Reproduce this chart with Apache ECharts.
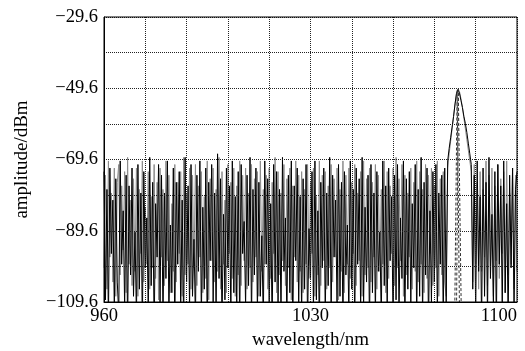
<!DOCTYPE html>
<html>
<head>
<meta charset="utf-8">
<script src="https://cdn.jsdelivr.net/npm/echarts@6/dist/echarts.min.js"></script>
<style>html,body{margin:0;padding:0;background:#fff}#c{width:525px;height:351px}</style>
</head>
<body>
<div id="c"></div>
<script>
// wavelength sampling (nm)
const startNm = 960;
const stepNm = 0.5;
// tick labels
const xTickLabels = [960, 1030, 1100];
const yTickLabels = [-109.6, -89.6, -69.6, -49.6, -29.6];

// black trace amplitude (dBm), one value per 0.5 nm from 960 nm
const blackTrace = [
  -73, -109, -78, -115, -72, -96, -81, -112, -75, -104,
  -113, -70, -99, -84, -111, -74, -117, -77, -102, -72,
  -108, -90, -114, -71, -106, -79, -116, -73, -100, -86,
  -112, -69, -105, -76, -118, -82, -97, -71, -110, -74,
  -115, -79, -103, -70, -113, -88, -107, -72, -117, -76,
  -99, -73, -111, -81, -116, -69, -104, -77, -112, -71,
  -108, -92, -115, -74, -101, -70, -114, -83, -106, -72,
  -118, -76, -98, -71, -110, -79, -113, -68, -103, -75,
  -116, -85, -109, -72, -100, -77, -114, -70, -107, -80,
  -112, -73, -117, -71, -96, -87, -111, -74, -105, -69,
  -115, -78, -102, -72, -113, -76, -108, -91, -116, -70,
  -99, -75, -112, -82, -117, -71, -104, -73, -110, -78,
  -114, -69, -101, -86, -115, -74, -107, -70, -118, -77,
  -98, -72, -111, -80, -113, -75, -106, -71, -116, -89,
  -103, -73, -112, -70, -109, -84, -117, -76, -100, -72,
  -114, -79, -105, -69, -115, -74, -97, -81, -111, -71,
  -108, -76, -117, -73, -102, -88, -113, -70, -106, -78,
  -116, -72, -99, -75, -112, -69, -110, -83, -104, -74,
  -118, -71, -107, -79, -114, -73, -101, -90, -115, -70,
  -105, -77, -112, -72, -98, -80, -117, -74, -109, -71,
  -113, -86, -103, -70, -116, -75, -106, -73, -111, -82,
  -100, -71, -115, -78, -108, -69, -114, -76, -102, -72,
  -117, -84, -110, -73, -104, -71, -113, -79, -99, -74,
  -115, -72, -110,
  -70, -66.5, -63.5, -60.5, -57.5, -54, -51, -50, -51, -53,
  -55, -57.5, -59.5, -62, -65, -68, -71,
  -106, -74, -113, -70, -101, -80, -116, -72, -108, -76,
  -114, -69, -103, -85, -111, -73, -117, -71, -99, -77,
  -112, -70, -107, -82, -115, -74, -100, -72, -113, -78,
  -73
];

// gray trace amplitude (dBm), one value per 0.5 nm from 960 nm
const grayTrace = [
  -100, -74, -106, -70, -97, -79, -104, -72, -108, -76,
  -71, -102, -77, -95, -73, -107, -69, -99, -81, -105,
  -75, -101, -72, -108, -78, -96, -70, -104, -83, -99,
  -73, -106, -80, -100, -71, -103, -76, -109, -72, -97,
  -78, -105, -70, -98, -74, -107, -82, -101, -71, -104,
  -76, -96, -73, -108, -69, -102, -79, -99, -72, -106,
  -74, -100, -71, -105, -77, -97, -73, -107, -80, -103,
  -70, -109, -75, -98, -72, -104, -78, -101, -69, -106,
  -73, -99, -81, -107, -71, -96, -76, -103, -72, -108,
  -77, -102, -70, -105, -74, -98, -72, -106, -79, -100,
  -71, -104, -75, -97, -73, -108, -70, -101, -78, -99,
  -74, -106, -72, -103, -76, -96, -69, -107, -73, -102,
  -79, -98, -71, -105, -75, -100, -72, -109, -77, -97,
  -70, -104, -74, -101, -73, -107, -78, -99, -71, -103,
  -76, -96, -72, -108, -80, -102, -70, -105, -74, -98,
  -73, -106, -77, -100, -71, -104, -75, -97, -72, -109,
  -78, -101, -70, -107, -74, -99, -72, -103, -76, -96,
  -71, -105, -79, -98, -73, -108, -70, -102, -75, -100,
  -72, -104, -76, -97, -71, -106, -74, -101, -78, -99,
  -70, -107, -73, -103, -77, -96, -72, -105, -69, -100,
  -75, -98, -71, -108, -74, -102, -79, -97, -72, -106,
  -76, -101, -70, -104, -73, -99, -78, -107, -71, -103,
  -74, -96, -72, -105, -77, -100, -70, -108, -75, -102,
  -73, -104, -108,
  -72, -68, -64.5, -61, -57.5, -54, -51, -49.8, -50.5, -52.5,
  -55, -58, -61, -64, -67, -70, -73,
  -104, -71, -99, -76, -106, -73, -101, -78, -97, -70,
  -105, -74, -100, -72, -108, -77, -98, -71, -103, -75,
  -96, -73, -107, -70, -102, -79, -99, -72, -106, -74,
  -101
];

// dashed traces inside the peak
const dash1X = [1078.9, 1079.7, 1080.5];
const dash1Y = [-112, -50.2, -112];
const dash2X = [1079.5, 1080.1, 1081.1];
const dash2Y = [-112, -49.9, -112];

const yMin = -109.6, yMax = -29.6, xMin = 960, xMax = 1100;

const toPairs = arr => arr.map((v, i) => [startNm + i * stepNm, v]);
const zip = (xs, ys) => xs.map((x, i) => [x, ys[i]]);
const serif = "'Liberation Serif', 'Times New Roman', serif";

const chart = echarts.init(document.getElementById('c'), null, {renderer: 'canvas'});
chart.setOption({
  animation: false,
  backgroundColor: '#fff',
  grid: {left: 104, right: 8, top: 17, bottom: 49, show: true, borderColor: '#000', borderWidth: 1,
         backgroundColor: 'transparent', z: 5, containLabel: false, outerBoundsMode: 'none'},
  xAxis: {
    type: 'value', min: xMin, max: xMax, interval: 14, z: 4,
    name: 'wavelength/nm', nameLocation: 'middle', nameGap: 21,
    nameTextStyle: {fontFamily: serif, fontSize: 19, color: '#000'},
    axisLine: {show: true, lineStyle: {color: '#000', width: 1}},
    axisTick: {show: false},
    axisLabel: {
      fontFamily: serif, fontSize: 18.5, color: '#000', margin: 5,
      alignMaxLabel: 'right',
      formatter: v => {
        const hit = xTickLabels.find(t => Math.abs(t - v) < 0.01);
        return hit !== undefined ? String(hit) : '';
      }
    },
    splitLine: {show: true, lineStyle: {color: '#222', width: 1, type: [1, 1]}}
  },
  yAxis: {
    type: 'value', min: yMin, max: yMax, interval: 10, z: 4,
    name: 'amplitude/dBm', nameLocation: 'middle', nameGap: 72,
    nameTextStyle: {fontFamily: serif, fontSize: 19, color: '#000'},
    axisLine: {show: true, lineStyle: {color: '#000', width: 1}},
    axisTick: {show: false},
    axisLabel: {
      fontFamily: serif, fontSize: 18.5, color: '#000', margin: 6,
      formatter: v => {
        const hit = yTickLabels.find(t => Math.abs(t - v) < 0.01);
        return hit !== undefined ? '\u2212' + Math.abs(hit).toFixed(1) : '';
      }
    },
    splitLine: {show: true, lineStyle: {color: '#222', width: 1, type: [1, 1]}}
  },
  series: [
    {type: 'line', data: toPairs(grayTrace), showSymbol: false, symbol: 'none', z: 1,
     lineStyle: {color: '#8c8c8c', width: 1}, clip: true},
    {type: 'line', data: toPairs(blackTrace), showSymbol: false, symbol: 'none', z: 2,
     lineStyle: {color: '#000', width: 1}, clip: true},
    {type: 'line', data: zip(dash1X, dash1Y), showSymbol: false, symbol: 'none', z: 3,
     lineStyle: {color: '#333', width: 1, type: [3, 2]}, clip: true},
    {type: 'line', data: zip(dash2X, dash2Y), showSymbol: false, symbol: 'none', z: 3,
     lineStyle: {color: '#333', width: 1, type: [3, 2]}, clip: true}
  ]
});
</script>
</body>
</html>
